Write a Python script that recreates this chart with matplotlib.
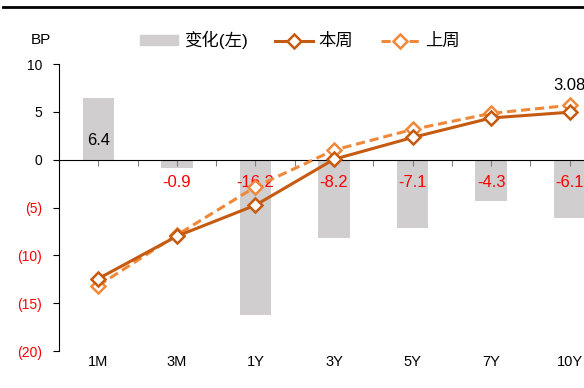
import numpy as np
import matplotlib
matplotlib.use('Agg')
import matplotlib.pyplot as plt
from matplotlib.lines import Line2D
from matplotlib.patches import Patch
from matplotlib.ticker import FuncFormatter

plt.rcParams['font.family'] = ['Liberation Sans', 'Noto Sans CJK SC', 'DejaVu Sans']

# Yield curve data
tenors = ['1M', '3M', '1Y', '3Y', '5Y', '7Y', '10Y']
change_bp = [6.4, -0.9, -16.2, -8.2, -7.1, -4.3, -6.1]
this_week = [1.63, 2.00, 2.27, 2.67, 2.86, 3.03, 3.08]
last_week = [1.57, 2.01, 2.43, 2.75, 2.93, 3.07, 3.14]

bar_color = '#D0CECF'
c_this = '#C55A11'
c_last = '#F0883A'

fig = plt.figure(figsize=(5.84, 3.88), dpi=100)
ax = fig.add_axes([59 / 584, 37 / 388, 550 / 584, 287 / 388])
x = np.arange(len(tenors))

# bars on the left axis (bp change)
ax.bar(x, change_bp, width=0.4, color=bar_color, zorder=1)
ax.set_xlim(-0.5, 6.5)
ax.set_ylim(-20, 10)
ax.set_yticks(range(-20, 11, 5))
ax.yaxis.set_major_formatter(FuncFormatter(
    lambda v, p: f'({abs(int(v))})' if v < 0 else f'{int(v)}'))
ax.tick_params(axis='y', direction='out', length=4, labelsize=10, pad=8)
for lbl, v in zip(ax.get_yticklabels(), ax.get_yticks()):
    lbl.set_color('red' if v < 0 else 'black')

for s in ['top', 'right']:
    ax.spines[s].set_visible(False)
ax.spines['bottom'].set_position(('data', 0))
ax.spines['bottom'].set_zorder(3)
ax.set_xticks(np.arange(-0.5, 6.6, 0.5))
ax.tick_params(axis='x', direction='out', length=4, color='#808080',
               labelbottom=False)
for xi, t in zip(x, tenors):
    ax.text(xi, -0.04, t, transform=ax.get_xaxis_transform(),
            ha='center', va='center', fontsize=10.5)

# value labels on bars
for xi, v in zip(x, change_bp):
    if v >= 0:
        ax.text(xi, 2.0, f'{v:.1f}', ha='center', va='center',
                fontsize=12, color='black', zorder=5)
    else:
        ax.text(xi, -2.4, f'{v:.1f}', ha='center', va='center',
                fontsize=12, color='red', zorder=5)

# yields on a hidden secondary axis
ax2 = ax.twinx()
ax2.set_ylim(1.0, 3.5)
ax2.set_axis_off()
ax2.plot(x, last_week, color=c_last, lw=2.2, ls=(0, (3, 1.6)), marker='D',
         ms=7.5, mfc='white', mec=c_last, mew=1.8, zorder=4)
ax2.plot(x, this_week, color=c_this, lw=2.2, marker='D',
         ms=7.5, mfc='white', mec=c_this, mew=1.8, zorder=5)
ax2.annotate(f'{this_week[-1]:.2f}', (x[-1], this_week[-1]),
             xytext=(0, 19), textcoords='offset points',
             ha='center', va='center', fontsize=12)

# legend across the top
handles = [Patch(color=bar_color),
           Line2D([], [], color=c_this, lw=2.2, marker='D', ms=7.5,
                  mfc='white', mec=c_this, mew=1.8),
           Line2D([], [], color=c_last, lw=2.2, ls=(0, (3, 1.6)), marker='D',
                  ms=7.5, mfc='white', mec=c_last, mew=1.8)]
fig.legend(handles, ['变化(左)', '本周', '上周'], ncol=3, frameon=False,
           loc='center', bbox_to_anchor=(300 / 584, 348 / 388),
           fontsize=12.5, handlelength=2.15, handleheight=0.5,
           columnspacing=1.6, handletextpad=0.35)
fig.text(41 / 584, 348 / 388, 'BP', ha='center', va='center', fontsize=11)

# rule across the top
fig.add_artist(Line2D([3 / 584, 1], [381 / 388, 381 / 388], color='black',
                      lw=2, transform=fig.transFigure))

fig.savefig('out.png', dpi=100)
